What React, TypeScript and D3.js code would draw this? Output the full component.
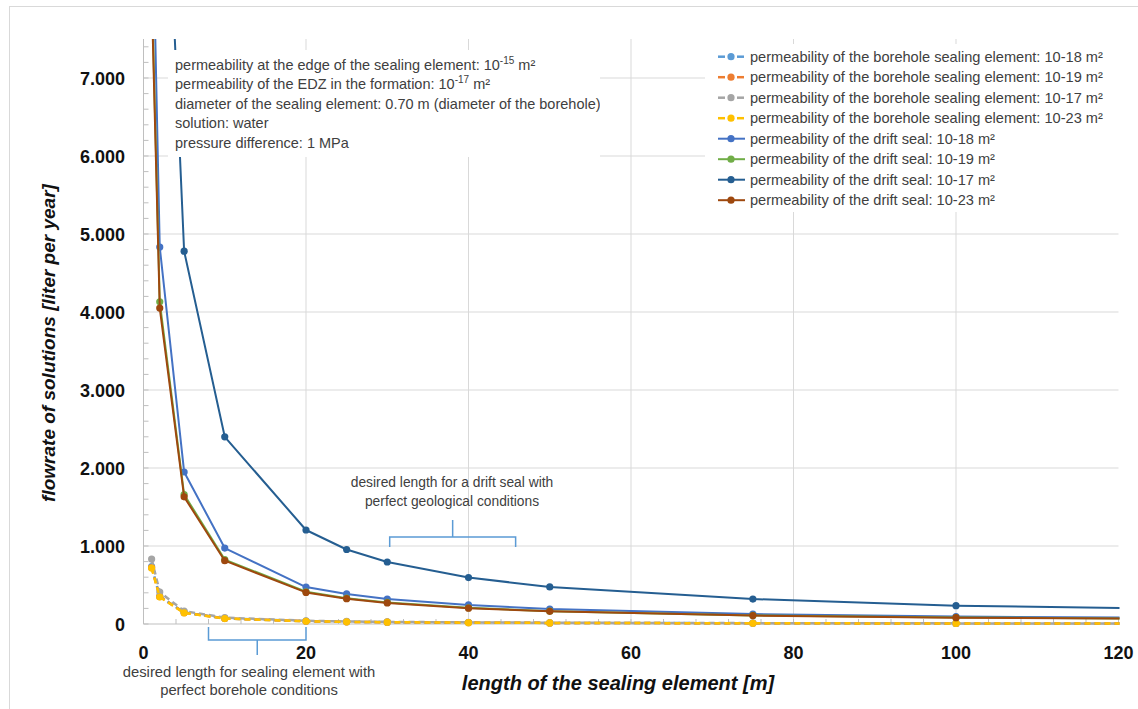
import React from 'react';
import * as d3 from 'd3';

// lengths of the sealing element [m]
const lengths = [1, 2, 5, 10, 20, 25, 30, 40, 50, 75, 100, 150];

// borehole sealing element (dashed)
const borehole18 = [735, 355, 148, 72, 36, 29, 24, 18, 14, 10, 7, 5];
const borehole19 = [722, 350, 145, 71, 35, 28, 23, 18, 14, 9, 7, 5];
const borehole17 = [833, 410, 165, 82, 41, 33, 27, 21, 16, 11, 8, 6];
const borehole23 = [718, 346, 143, 70, 35, 28, 23, 17, 14, 9, 7, 5];

// drift seal (solid)
const drift18 = [9700, 4833, 1949, 974, 474, 385, 320, 244, 192, 128, 96, 64];
const drift19 = [8250, 4130, 1660, 826, 413, 331, 276, 207, 165, 110, 83, 55];
const drift17 = [24000, 11900, 4780, 2400, 1205, 955, 795, 595, 475, 320, 235, 160];
const drift23 = [8100, 4050, 1630, 812, 405, 325, 270, 203, 162, 108, 81, 54];

const xTicks = [0, 20, 40, 60, 80, 100, 120];
const yTicks = [0, 1000, 2000, 3000, 4000, 5000, 6000, 7000];

const infoLines = [
  ['permeability at the edge of the sealing element: 10', '-15', ' m²'],
  ['permeability of the EDZ in the formation: 10', '-17', ' m²'],
  ['diameter of the sealing element: 0.70 m (diameter of the borehole)', '', ''],
  ['solution: water', '', ''],
  ['pressure difference: 1 MPa', '', ''],
];

const series = [
  { name: 'permeability of the borehole sealing element: 10-18 m²', values: borehole18, color: '#5B9BD5', dashed: true },
  { name: 'permeability of the borehole sealing element: 10-19 m²', values: borehole19, color: '#ED7D31', dashed: true },
  { name: 'permeability of the borehole sealing element: 10-17 m²', values: borehole17, color: '#A5A5A5', dashed: true },
  { name: 'permeability of the borehole sealing element: 10-23 m²', values: borehole23, color: '#FFC000', dashed: true },
  { name: 'permeability of the drift seal: 10-18 m²', values: drift18, color: '#4472C4', dashed: false },
  { name: 'permeability of the drift seal: 10-19 m²', values: drift19, color: '#70AD47', dashed: false },
  { name: 'permeability of the drift seal: 10-17 m²', values: drift17, color: '#255E91', dashed: false },
  { name: 'permeability of the drift seal: 10-23 m²', values: drift23, color: '#9E480E', dashed: false },
];

const W = 1138;
const H = 709;
const left = 143.5, right = 1118.5, top = 39, bottom = 624;

const font = "'Liberation Sans', Arial, sans-serif";

export default function App() {
  const x = d3.scaleLinear().domain([0, 120]).range([left, right]);
  const y = d3.scaleLinear().domain([0, 7500]).range([bottom, top]);
  const line = d3.line<number>()
    .x((_, i) => x(lengths[i]))
    .y(d => y(d));

  const xMinor = d3.range(0, 121, 4);
  const yMinor = d3.range(0, 7501, 200);

  // bracket positions (data space)
  const bx0 = x(8), bx1 = x(20), bmid = (bx0 + bx1) / 2;
  const dx0 = x(30.3), dx1 = x(45.8), dmid = (dx0 + dx1) / 2;
  const dy = y(1115);

  return (
    <svg width={W} height={H} style={{ position: 'absolute', left: 0, top: 0, background: '#fff' }}>
      <defs>
        <clipPath id="plot">
          <rect x={left} y={top} width={right - left + 1} height={bottom - top + 6} />
        </clipPath>
        <clipPath id="info">
          <rect x={168} y={50} width={432} height={107} />
        </clipPath>
      </defs>
      <rect x={9.5} y={6.5} width={1140} height={720} fill="#fff" stroke="#d9d9d9" />

      {/* gridlines */}
      {yTicks.filter(t => t > 0).map(t => (
        <line key={'gy' + t} x1={left} x2={right} y1={y(t)} y2={y(t)} stroke="#d9d9d9" />
      ))}
      {xTicks.filter(t => t > 0 && t < 120).map(t => (
        <line key={'gx' + t} x1={x(t)} x2={x(t)} y1={top} y2={bottom} stroke="#d9d9d9" />
      ))}

      {/* axes */}
      <line x1={left} x2={left} y1={top} y2={bottom} stroke="#bfbfbf" />
      <line x1={left} x2={right} y1={bottom} y2={bottom} stroke="#bfbfbf" />
      {yMinor.map(t => (
        <line key={'my' + t} x1={left} x2={left + 5} y1={y(t)} y2={y(t)} stroke="#bfbfbf" />
      ))}
      {xMinor.map(t => (
        <line key={'mx' + t} x1={x(t)} x2={x(t)} y1={bottom} y2={bottom - 5} stroke="#bfbfbf" />
      ))}

      {/* series */}
      <g clipPath="url(#plot)">
        {series.map(s => (
          <g key={s.name}>
            <path
              d={line(s.values) || ''}
              fill="none"
              stroke={s.color}
              strokeWidth={s.dashed ? 2.5 : 2}
              strokeDasharray={s.dashed ? '6 4' : undefined}
              strokeLinejoin="round"
            />
            {s.values.map((v, i) => (
              <circle key={i} cx={x(lengths[i])} cy={y(v)} r={3.6} fill={s.color} />
            ))}
          </g>
        ))}
      </g>

      {/* tick labels */}
      {yTicks.map(t => (
        <text key={'ty' + t} x={125} y={y(t) + 7} textAnchor="end" fontFamily={font}
          fontWeight="bold" fontSize={18} fill="#111">
          {t === 0 ? '0' : d3.format(',')(t).replace(',', '.')}
        </text>
      ))}
      {xTicks.map(t => (
        <text key={'tx' + t} x={x(t)} y={659} textAnchor="middle" fontFamily={font}
          fontWeight="bold" fontSize={18} fill="#111">
          {t}
        </text>
      ))}

      {/* axis titles */}
      <text x={618} y={690} textAnchor="middle" fontFamily={font} fontWeight="bold"
        fontStyle="italic" fontSize={20} fill="#111">
        length of the sealing element [m]
      </text>
      <text transform={`translate(55,343) rotate(-90)`} textAnchor="middle" fontFamily={font}
        fontWeight="bold" fontStyle="italic" fontSize={19} fill="#111">
        flowrate of solutions [liter per year]
      </text>

      {/* info box */}
      <rect x={168} y={50} width={432} height={107} fill="#fff" />
      <g clipPath="url(#info)">
        {infoLines.map((l, i) => (
          <text key={i} x={175} y={69.5 + i * 19.5} fontFamily={font} fontSize={14.5} fill="#404040">
            {l[0]}
            {l[1] && <tspan fontSize={10} dy={-6}>{l[1]}</tspan>}
            {l[2] && <tspan dy={6}>{l[2]}</tspan>}
          </text>
        ))}
      </g>

      {/* legend */}
      <rect x={705} y={44} width={417} height={168} fill="#fff" />
      {series.map((s, i) => {
        const cy = 56.7 + i * 20.5;
        return (
          <g key={'lg' + i}>
            {s.dashed ? (
              <>
                <line x1={718} x2={725} y1={cy} y2={cy} stroke={s.color} strokeWidth={2.5} />
                <line x1={737} x2={744} y1={cy} y2={cy} stroke={s.color} strokeWidth={2.5} />
              </>
            ) : (
              <line x1={718} x2={745} y1={cy} y2={cy} stroke={s.color} strokeWidth={2} />
            )}
            <circle cx={731} cy={cy} r={3.6} fill={s.color} />
            <text x={750} y={cy + 5} fontFamily={font} fontSize={14.6} fill="#404040">{s.name}</text>
          </g>
        );
      })}

      {/* drift seal bracket */}
      <path d={`M${dx0},${y(987)}V${dy}H${dx1}V${y(987)}M${dmid},${dy}V${y(1333)}`}
        fill="none" stroke="#5B9BD5" strokeWidth={1.5} />
      <text x={452} y={487} textAnchor="middle" fontFamily={font} fontSize={13.8} fill="#404040">
        desired length for a drift seal with
      </text>
      <text x={452} y={506} textAnchor="middle" fontFamily={font} fontSize={13.8} fill="#404040">
        perfect geological conditions
      </text>

      {/* borehole bracket */}
      <path d={`M${bx0},627V640H${bx1}V627M${bmid},640V655`}
        fill="none" stroke="#5B9BD5" strokeWidth={1.5} />
      <text x={249} y={677} textAnchor="middle" fontFamily={font} fontSize={14.8} fill="#404040">
        desired length for sealing element with
      </text>
      <text x={249} y={695} textAnchor="middle" fontFamily={font} fontSize={14.8} fill="#404040">
        perfect borehole conditions
      </text>
    </svg>
  );
}
